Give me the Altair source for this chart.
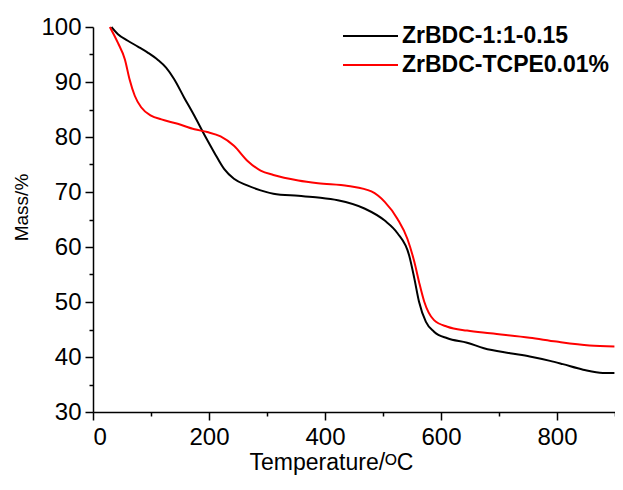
import altair as alt
import pandas as pd

series_names = ["ZrBDC-1:1-0.15", "ZrBDC-TCPE0.01%"]
series_colors = ["#000000", "#ff0000"]

black_T = [32, 43, 60, 78, 95, 112, 126, 140, 157, 175, 192, 209, 226, 243, 266, 289, 311,
           354, 388, 422, 468, 503, 525, 545, 554, 562, 574, 588, 611, 645, 674, 719, 753,
           788, 810, 845, 879, 899]
black_M = [100, 98.7, 97.5, 96.4, 95.3, 94.0, 92.6, 90.5, 87.2, 83.8, 80.4, 77.2, 74.2, 72.4,
           71.2, 70.3, 69.7, 69.3, 69.0, 68.5, 67.0, 64.8, 62.5, 58.5, 54.3, 50.1, 46.4, 44.6,
           43.4, 42.6, 41.6, 40.7, 40.1, 39.3, 38.7, 37.7, 37.1, 37.1]

red_T = [29, 43, 55, 63, 72, 83, 100, 118, 146, 175, 197, 220, 243, 266, 289, 311, 354, 388,
         440, 480, 503, 525, 542, 554, 562, 571, 588, 611, 645, 685, 753, 799, 856, 899]
red_M = [100, 97.1, 94.1, 90.5, 87.5, 85.4, 83.9, 83.2, 82.4, 81.4, 80.9, 80.1, 78.4, 75.7,
         73.9, 73.1, 72.1, 71.6, 71.1, 70.1, 68.2, 65.1, 61.5, 57.3, 53.7, 50.1, 46.7, 45.5,
         44.8, 44.3, 43.5, 42.8, 42.1, 41.9]

x_ticks = list(range(0, 901, 100))
y_ticks = list(range(30, 101, 5))

df = pd.concat([
    pd.DataFrame({"T": black_T, "M": black_M, "series": series_names[0], "order": range(len(black_T))}),
    pd.DataFrame({"T": red_T, "M": red_M, "series": series_names[1], "order": range(len(red_T))}),
])

FONT = "Liberation Sans, Arial, sans-serif"

chart = alt.Chart(df).mark_line(strokeWidth=2, interpolate="monotone").encode(
    x=alt.X("T:Q",
            scale=alt.Scale(domain=[0, 900], nice=False, zero=False),
            axis=alt.Axis(
                title="Temperature/ᴼC",
                values=x_ticks,
                labelExpr="datum.value % 200 === 0 ? datum.label : ''",
                tickSize={"condition": {"test": "datum.value % 200 === 0", "value": 8}, "value": 4},
                labelPadding=5,
                titleX=238, titleY=50, titleBaseline="middle", titleAlign="center",
            )),
    y=alt.Y("M:Q",
            scale=alt.Scale(domain=[30, 100], nice=False, zero=False),
            axis=alt.Axis(
                title="Mass/%",
                values=y_ticks,
                labelExpr="datum.value % 10 === 0 ? datum.label : ''",
                tickSize={"condition": {"test": "datum.value % 10 === 0", "value": 8}, "value": 4},
                labelPadding=4,
                titleX=-72, titleY=180, titleBaseline="middle", titleAlign="center", titleAngle=-90,
            )),
    color=alt.Color("series:N",
                    scale=alt.Scale(domain=series_names, range=series_colors),
                    sort=series_names,
                    legend=alt.Legend(
                        title=None, orient="none", legendX=265.5, legendY=-3,
                        symbolType="M-2.5,0H2.5", symbolSize=484, symbolStrokeWidth=2,
                        labelOffset=19.5, labelFontSize=23, labelFontWeight="bold",
                        labelFont=FONT, labelColor="black", rowPadding=5, padding=0,
                        labelLimit=0,
                    )),
    order="order:Q",
).properties(
    width=522, height=385,
    autosize=alt.AutoSizeParams(type="none"),
    padding={"left": 85, "top": 19, "right": 0, "bottom": 64},
).configure_view(stroke=None).configure_axis(
    grid=False,
    domainColor="black", domainWidth=1.5,
    tickColor="black", tickWidth=1.5,
    labelFont=FONT, labelFontSize=24, labelColor="black",
    titleFont=FONT, titleColor="black", titleFontWeight="normal",
).configure_axisX(titleFontSize=23).configure_axisY(titleFontSize=19)

chart.save("out.html", embed_options={"renderer": "svg", "actions": False})
